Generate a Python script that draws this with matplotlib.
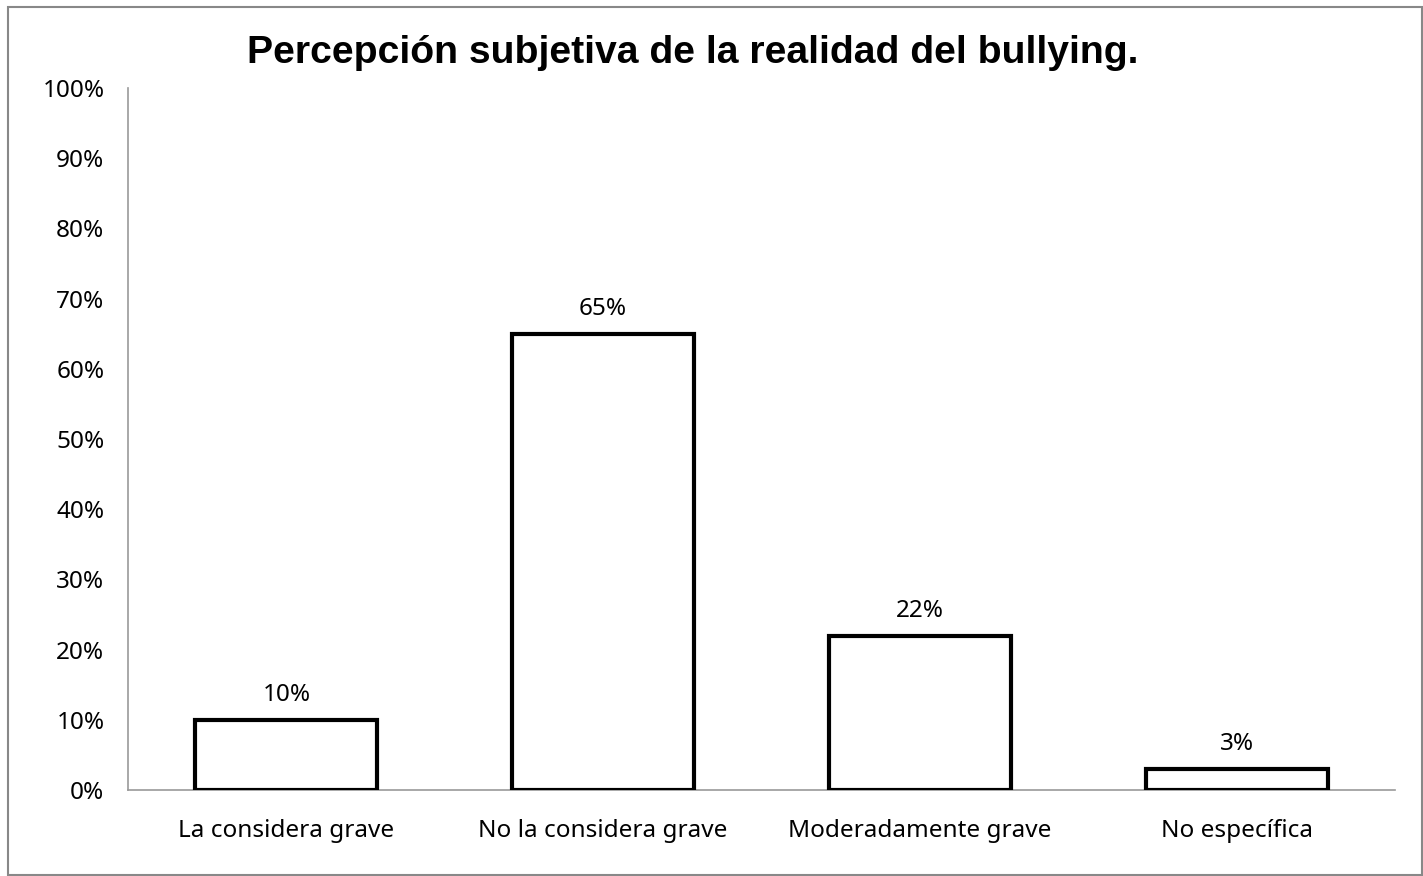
import matplotlib.pyplot as plt
from matplotlib.patches import Rectangle

# data
categories = ["La considera grave", "No la considera grave", "Moderadamente grave", "No específica"]
values = [10, 65, 22, 3]
yticks = [0, 10, 20, 30, 40, 50, 60, 70, 80, 90, 100]
title = "Percepción subjetiva de la realidad del bullying."

FONT = "Noto Sans"
FS = 17.5

fig = plt.figure(figsize=(14.23, 8.76), dpi=100)
ax = fig.add_axes([0.0900, 0.0982, 0.8903, 0.8014])

x = range(len(categories))
bars = ax.bar(x, values, width=0.575, color="white", edgecolor="black", linewidth=3, zorder=3)

# value labels
for b, v in zip(bars, values):
    ax.annotate(f"{v}%", (b.get_x() + b.get_width() / 2, v), xytext=(0, 9),
                textcoords="offset points", ha="center", va="bottom",
                fontsize=FS, family=FONT)

ax.set_xlim(-0.5, len(categories) - 0.5)
ax.set_ylim(0, 100)
ax.set_yticks(yticks)
ax.set_yticklabels([f"{t}%" for t in yticks], family=FONT, fontsize=FS)
ax.set_xticks(list(x))
ax.set_xticklabels(categories, family=FONT, fontsize=FS)
ax.tick_params(axis="both", length=0)
ax.tick_params(axis="y", pad=17)
ax.tick_params(axis="x", pad=21)

for s in ["top", "right"]:
    ax.spines[s].set_visible(False)
for s in ["left", "bottom"]:
    ax.spines[s].set_color("#999999")
    ax.spines[s].set_linewidth(1.2)

fig.text(0.4865, 0.94, title, ha="center", va="center", fontsize=28.2,
         fontweight="bold", family="Liberation Sans")

# chart border
fig.patches.append(Rectangle((8 / 1423, 0.001), 1 - 8 / 1423 - 0.001, 1 - 7 / 876 - 0.001,
                             transform=fig.transFigure, fill=False,
                             edgecolor="#888888", linewidth=1.5))

fig.savefig("out.png", dpi=100)
